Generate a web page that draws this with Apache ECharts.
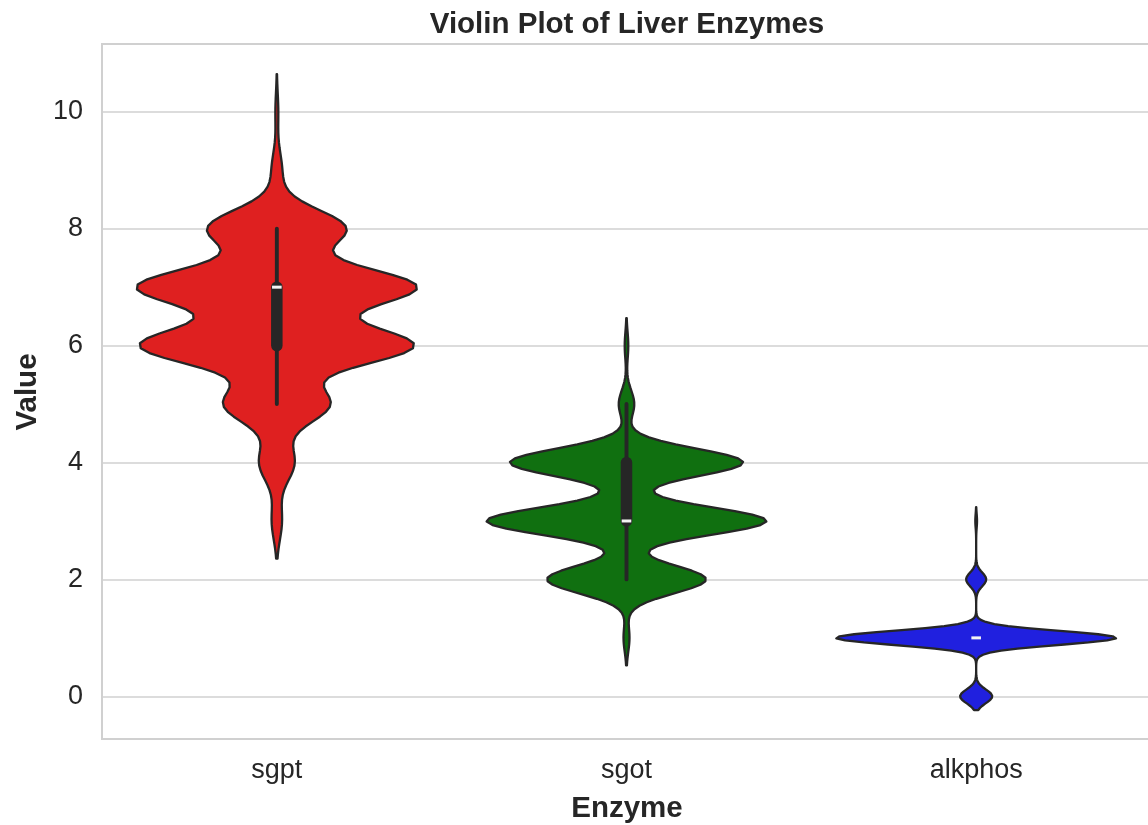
<!DOCTYPE html>
<html>
<head>
<meta charset="utf-8">
<script src="https://cdn.jsdelivr.net/npm/echarts@6/dist/echarts.min.js"></script>
<style>
  html, body { margin: 0; padding: 0; background: #ffffff; overflow: hidden; }
  /* plot area runs slightly past the right edge of the window, so the right frame line is out of view */
  #chart { width: 1156px; height: 825px; }
</style>
</head>
<body>
<div id="chart"></div>
<script>
// Enzyme categories along the x axis
const categories = ['sgpt', 'sgot', 'alkphos'];

// Observed (integer) levels of each enzyme and the number of records at each level
const sgptLevels = [3, 4, 5, 6, 7, 8, 9, 10];
const sgptCounts = [7, 24, 72, 186, 190, 94, 7, 2];

const sgotLevels = [1, 2, 3, 4, 5, 6];
const sgotCounts = [5, 133, 234, 195, 13, 3];

const alkphosLevels = [0, 1, 2, 3];
const alkphosCounts = [56, 489, 35, 3];

// Y tick labels shown on the value axis
const yTickLabels = [0, 2, 4, 6, 8, 10];

const violinColors = ['#df2020', '#107010', '#2020df'];
const lineColor = '#262626';
const textColor = '#262626';
const fontFamily = '"Liberation Sans", Arial, Helvetica, sans-serif';

// ---- statistics: Gaussian KDE (Scott bandwidth, cut = 2, 100 grid points) and box stats ----
function percentile(levels, counts, n, p) {
  const pos = p * (n - 1);
  const valueAt = (k) => {
    let cum = 0;
    for (let i = 0; i < levels.length; i++) {
      cum += counts[i];
      if (k < cum) return levels[i];
    }
    return levels[levels.length - 1];
  };
  const lo = Math.floor(pos), hi = Math.ceil(pos);
  const a = valueAt(lo), b = valueAt(hi);
  return a + (pos - lo) * (b - a);
}

function violinStats(levels, counts) {
  const n = counts.reduce((s, c) => s + c, 0);
  let mean = 0;
  levels.forEach((v, i) => { mean += v * counts[i]; });
  mean /= n;
  let ss = 0;
  levels.forEach((v, i) => { ss += counts[i] * (v - mean) * (v - mean); });
  const std = Math.sqrt(ss / (n - 1));
  const bw = std * Math.pow(n, -0.2);

  const vmin = Math.min(...levels), vmax = Math.max(...levels);
  const lo = vmin - 2 * bw, hi = vmax + 2 * bw;
  const gridsize = 100;
  const ys = [], dens = [];
  for (let j = 0; j < gridsize; j++) {
    const y = lo + (hi - lo) * j / (gridsize - 1);
    let d = 0;
    levels.forEach((v, i) => {
      const z = (y - v) / bw;
      d += counts[i] * Math.exp(-0.5 * z * z);
    });
    ys.push(y);
    dens.push(d);
  }
  const maxD = Math.max(...dens);

  const q1 = percentile(levels, counts, n, 0.25);
  const med = percentile(levels, counts, n, 0.5);
  const q3 = percentile(levels, counts, n, 0.75);
  const iqr = q3 - q1;
  const present = levels.filter((v, i) => counts[i] > 0);
  const inLo = present.filter(v => v >= q1 - 1.5 * iqr);
  const inHi = present.filter(v => v <= q3 + 1.5 * iqr);
  const whisLo = inLo.length ? Math.min(...inLo) : q1;
  const whisHi = inHi.length ? Math.max(...inHi) : q3;

  return { ys, dens, maxD, q1, med, q3, whisLo, whisHi };
}

const stats = [
  violinStats(sgptLevels, sgptCounts),
  violinStats(sgotLevels, sgotCounts),
  violinStats(alkphosLevels, alkphosCounts)
];

// ---- drawing ----
function renderViolin(params, api) {
  const i = params.dataIndex;
  const s = stats[i];
  const cx = api.coord([i, 0])[0];
  const half = api.size([1, 0])[0] * 0.4;

  const right = [], left = [];
  s.ys.forEach((y, j) => {
    const py = api.coord([i, y])[1];
    const w = half * s.dens[j] / s.maxD;
    right.push([cx + w, py]);
    left.push([cx - w, py]);
  });
  const points = right.concat(left.reverse());

  const children = [{
    type: 'polygon',
    shape: { points: points },
    style: { fill: violinColors[i], stroke: lineColor, lineWidth: 2.3, lineJoin: 'round' }
  }];

  if (s.whisHi > s.whisLo) {
    children.push({
      type: 'line',
      shape: { x1: cx, y1: api.coord([i, s.whisLo])[1], x2: cx, y2: api.coord([i, s.whisHi])[1] },
      style: { stroke: lineColor, lineWidth: 3.9, lineCap: 'round' }
    });
  }
  if (s.q3 > s.q1) {
    children.push({
      type: 'line',
      shape: { x1: cx, y1: api.coord([i, s.q1])[1], x2: cx, y2: api.coord([i, s.q3])[1] },
      style: { stroke: lineColor, lineWidth: 11.5, lineCap: 'round' }
    });
  }
  const my = api.coord([i, s.med])[1];
  children.push({
    type: 'line',
    shape: { x1: cx - 4.8, y1: my, x2: cx + 4.8, y2: my },
    style: { stroke: '#f4f4f4', lineWidth: 3, lineCap: 'butt' }
  });

  return { type: 'group', children: children };
}

const chart = echarts.init(document.getElementById('chart'), null, { renderer: 'canvas' });

chart.setOption({
  animation: false,
  backgroundColor: '#ffffff',
  grid: {
    show: true,
    left: 102,
    top: 44,
    width: 1049,
    height: 695,
    borderColor: '#d0d0d0',
    borderWidth: 2,
    backgroundColor: 'transparent'
  },
  xAxis: {
    type: 'category',
    data: categories,
    boundaryGap: true,
    axisLine: { show: false },
    axisTick: { show: false },
    splitLine: { show: false },
    axisLabel: {
      color: textColor,
      fontFamily: fontFamily,
      fontSize: 27,
      margin: 18
    }
  },
  yAxis: {
    type: 'value',
    min: -0.73,
    max: 11.16,
    splitNumber: 5,
    axisLine: { show: false },
    axisTick: { show: false },
    splitLine: { show: true, lineStyle: { color: '#d0d0d0', width: 1.6 } },
    axisLabel: {
      color: textColor,
      fontFamily: fontFamily,
      fontSize: 27,
      margin: 19,
      showMinLabel: false,
      showMaxLabel: false,
      formatter: (v) => (yTickLabels.indexOf(v) >= 0 ? String(v) : '')
    }
  },
  graphic: [
    {
      type: 'text',
      x: 627, y: 25,
      style: {
        text: 'Violin Plot of Liver Enzymes',
        font: 'bold 29.5px ' + fontFamily,
        fill: textColor,
        textAlign: 'center',
        textVerticalAlign: 'middle'
      }
    },
    {
      type: 'text',
      x: 627, y: 809,
      style: {
        text: 'Enzyme',
        font: 'bold 29.5px ' + fontFamily,
        fill: textColor,
        textAlign: 'center',
        textVerticalAlign: 'middle'
      }
    },
    {
      type: 'text',
      x: 28, y: 392,
      rotation: Math.PI / 2,
      style: {
        text: 'Value',
        font: 'bold 29.5px ' + fontFamily,
        fill: textColor,
        textAlign: 'center',
        textVerticalAlign: 'middle'
      }
    }
  ],
  series: [{
    type: 'custom',
    renderItem: renderViolin,
    encode: { x: 0, y: 1 },
    data: categories.map((c, i) => [i, stats[i].med]),
    clip: false,
    z: 3
  }]
});
</script>
</body>
</html>
